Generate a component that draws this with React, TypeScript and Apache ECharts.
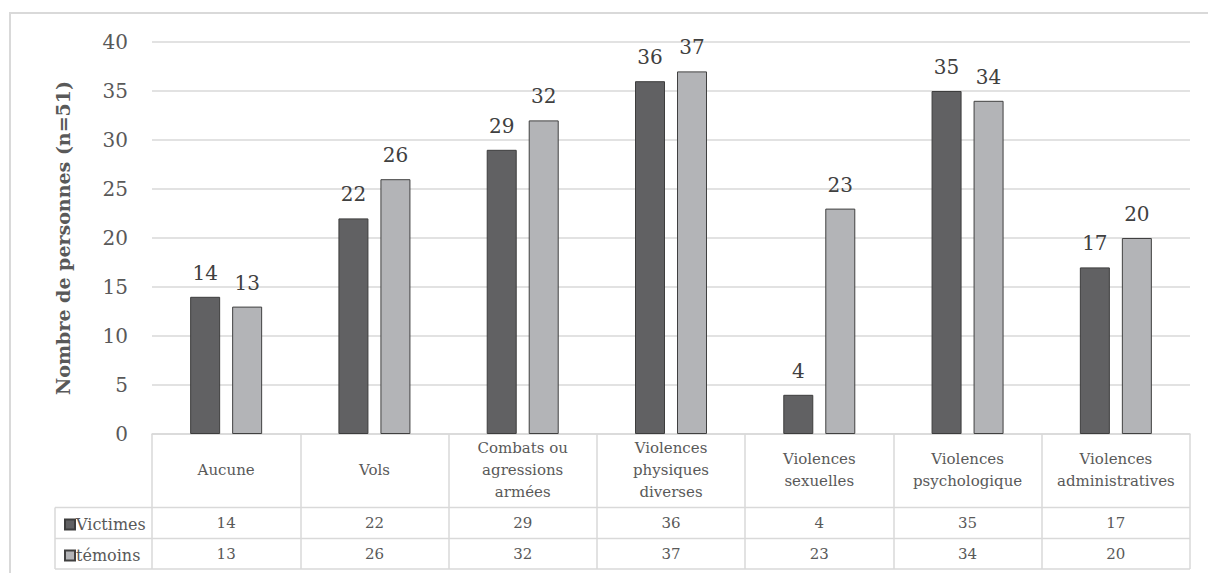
import React, { useEffect, useRef } from "react";
import * as echarts from "echarts";

const categories = [
  "Aucune",
  "Vols",
  "Combats ou\nagressions\narmées",
  "Violences\nphysiques\ndiverses",
  "Violences\nsexuelles",
  "Violences\npsychologique",
  "Violences\nadministratives",
];
const victimes = [14, 22, 29, 36, 4, 35, 17];
const temoins = [13, 26, 32, 37, 23, 34, 20];
const seriesNames = ["Victimes", "témoins"];
const yTicks = { min: 0, max: 40, interval: 5 };
const yTitle = "Nombre de personnes (n=51)";

const FONT = "DejaVu Serif";
const GRID_COLOR = "#d9d9d9";
const TEXT_COLOR = "#595959";

export default function App() {
  const ref = useRef<HTMLDivElement>(null);
  useEffect(() => {
    if (!ref.current) return;
    const chart = echarts.init(ref.current, undefined, { renderer: "svg" });
    const rowAxis = (values: number[], margin: number) => ({
      type: "category",
      data: categories,
      position: "bottom",
      offset: 0,
      gridIndex: 0,
      axisLine: { show: false },
      axisTick: { show: false },
      splitLine: { show: false },
      axisLabel: {
        interval: 0,
        margin,
        verticalAlign: "middle",
        fontFamily: FONT,
        fontSize: 15,
        color: TEXT_COLOR,
        formatter: (_v: string, i: number) => String(values[i]),
      },
    });
    const barLabel = {
      show: true,
      position: "top",
      distance: 14,
      fontFamily: FONT,
      fontSize: 20,
      color: "#404040",
    };
    chart.setOption({
      animation: false,
      backgroundColor: "#ffffff",
      textStyle: { fontFamily: FONT },
      grid: { left: 152, right: 18, top: 42, bottom: 139 },
      legend: {
        orient: "vertical",
        left: 59,
        top: 510,
        itemWidth: 10,
        itemHeight: 10,
        itemGap: 12,
        icon: "rect",
        data: seriesNames,
        textStyle: {
          fontFamily: FONT,
          fontSize: 16,
          lineHeight: 19,
          color: TEXT_COLOR,
          padding: [0, 0, 0, -4],
        },
      },
      xAxis: [
        {
          type: "category",
          data: categories,
          position: "bottom",
          axisLine: { show: true, lineStyle: { color: GRID_COLOR, width: 1.5 } },
          axisTick: {
            show: true,
            length: 135,
            lineStyle: { color: GRID_COLOR, width: 1.5 },
          },
          splitLine: { show: false },
          axisLabel: {
            interval: 0,
            margin: 36,
            verticalAlign: "middle",
            fontFamily: FONT,
            fontSize: 15,
            lineHeight: 22,
            color: TEXT_COLOR,
            align: "center",
          },
        },
        rowAxis(victimes, 89),
        rowAxis(temoins, 120),
      ],
      yAxis: {
        type: "value",
        min: yTicks.min,
        max: yTicks.max,
        interval: yTicks.interval,
        name: yTitle,
        nameLocation: "middle",
        nameGap: 80,
        nameRotate: 90,
        nameTextStyle: {
          fontFamily: FONT,
          fontSize: 19,
          fontWeight: "bold",
          color: TEXT_COLOR,
        },
        axisLine: { show: false },
        axisTick: { show: false },
        splitLine: { lineStyle: { color: GRID_COLOR, width: 1.5 } },
        axisLabel: {
          margin: 24,
          fontFamily: FONT,
          fontSize: 20,
          color: TEXT_COLOR,
        },
      },
      series: [
        {
          name: seriesNames[0],
          type: "bar",
          xAxisIndex: 0,
          data: victimes,
          barWidth: 30,
          barGap: "40%",
          itemStyle: { color: "#616163", borderColor: "#3d3d3d", borderWidth: 1 },
          label: barLabel,
        },
        {
          name: seriesNames[1],
          type: "bar",
          xAxisIndex: 0,
          data: temoins,
          barWidth: 30,
          barGap: "40%",
          itemStyle: { color: "#b3b4b7", borderColor: "#404040", borderWidth: 1 },
          label: barLabel,
        },
      ],
      graphic: [
        {
          type: "rect",
          shape: { x: 10, y: 13, width: 1400, height: 800 },
          style: { fill: "none", stroke: GRID_COLOR, lineWidth: 2 },
          silent: true,
        },
        {
          type: "line",
          shape: { x1: 55, y1: 507.5, x2: 1190, y2: 507.5 },
          style: { stroke: GRID_COLOR, lineWidth: 1.5 },
        },
        {
          type: "line",
          shape: { x1: 55, y1: 538.5, x2: 1190, y2: 538.5 },
          style: { stroke: GRID_COLOR, lineWidth: 1.5 },
        },
        {
          type: "line",
          shape: { x1: 55, y1: 569, x2: 1190, y2: 569 },
          style: { stroke: GRID_COLOR, lineWidth: 1.5 },
        },
        {
          type: "line",
          shape: { x1: 55, y1: 507.5, x2: 55, y2: 569 },
          style: { stroke: GRID_COLOR, lineWidth: 1.5 },
        },
      ],
    });
    return () => chart.dispose();
  }, []);
  return (
    <div
      ref={ref}
      style={{ position: "absolute", left: 0, top: 0, width: 1208, height: 573 }}
    />
  );
}
